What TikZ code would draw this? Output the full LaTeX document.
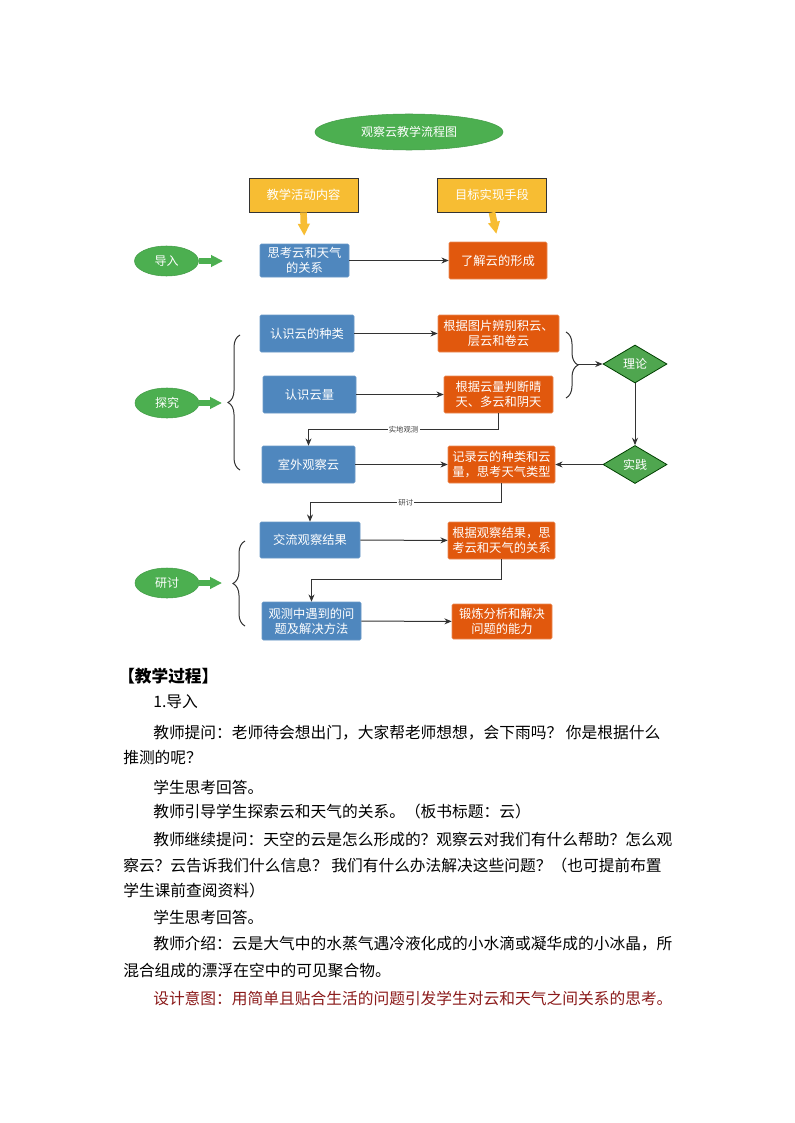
\documentclass[tikz,border=0pt]{standalone}
\usepackage{fontspec}
\usetikzlibrary{arrows.meta,shapes.geometric,decorations.pathreplacing}
\newfontfamily\cjk{Noto Sans CJK SC}
\definecolor{boxblue}{HTML}{4F87BE}
\definecolor{boxorange}{HTML}{E1580D}
\definecolor{ellgreen}{HTML}{4CAF50}
\definecolor{dgreen}{HTML}{4FA64F}
\definecolor{headyellow}{HTML}{F7BD33}
\definecolor{textred}{HTML}{8B1A1A}
\tikzset{
        box/.style={rectangle, rounded corners=1pt, text=white, align=center, inner sep=0pt, font=\cjk\fontsize{9.2pt}{11.25pt}\selectfont},
        bluebox/.style={box, fill=boxblue, draw=boxblue!85!white},
        orangebox/.style={box, fill=boxorange, draw=boxorange!70!white},
        headbox/.style={box, rounded corners=0pt, fill=headyellow, draw=black!80, line width=0.6pt, minimum width=81.75pt, minimum height=25.5pt},
        stage/.style={ellipse, fill=ellgreen, draw=ellgreen!90!black, text=white, inner sep=0pt, minimum width=48pt, minimum height=22.5pt, font=\cjk\fontsize{9pt}{11pt}\selectfont},
        judge/.style={diamond, fill=dgreen, draw=green!25!black, line width=0.6pt, text=white, inner sep=0pt, minimum width=48pt, minimum height=28.5pt, font=\cjk\fontsize{9pt}{11pt}\selectfont},
        conn/.style={draw=black!80, line width=0.75pt, -{Stealth[length=5.5pt,width=4.5pt]}},
        fat/.style={line width=5pt, -{Triangle[length=9pt,width=8.5pt]}},
        curly/.style={decorate, decoration={brace, amplitude=9pt}, draw=black!80, line width=0.75pt},
        lab/.style={fill=white, inner sep=1pt, text=black!75, font=\cjk\fontsize{5.5pt}{6pt}\selectfont},
        para/.style={anchor=west, inner sep=0pt, font=\cjk\fontsize{11.8pt}{14pt}\selectfont}
}
\begin{document}
\begin{tikzpicture}[x=0.75pt, y=-0.75pt]
        \path[use as bounding box, fill=white] (0,0) rectangle (794,1123);
        \node[stage, minimum width=141pt, minimum height=27pt] (0) at (409,132) {观察云教学流程图};
        \node[headbox] (h1) at (303.5,195) {教学活动内容};
        \node[headbox] (h2) at (492,195) {目标实现手段};
        \node[stage] (s1) at (166.5,261) {导入};
        \node[stage] (s2) at (167,403) {探究};
        \node[stage] (s3) at (167,583) {研讨};
        \node[bluebox, minimum width=66.75pt, minimum height=24.75pt] (1) at (304.5,260.5) {思考云和天气\\的关系};
        \node[orangebox, minimum width=73.5pt, minimum height=27.75pt] (2) at (498,260.5) {了解云的形成};
        \node[bluebox, minimum width=70.5pt, minimum height=27.75pt] (3) at (307,333.5) {认识云的种类};
        \node[orangebox, minimum width=90.75pt, minimum height=27.75pt] (4) at (498.5,333.5) {根据图片辨别积云、\\层云和卷云};
        \node[bluebox, minimum width=69.75pt, minimum height=27.75pt] (5) at (309.5,394.5) {认识云量};
        \node[orangebox, minimum width=81.75pt, minimum height=27.75pt] (6) at (498.5,394.5) {根据云量判断晴\\天、多云和阴天};
        \node[bluebox, minimum width=69.75pt, minimum height=27.75pt] (7) at (308.5,464.5) {室外观察云};
        \node[orangebox, minimum width=80.25pt, minimum height=27.75pt] (8) at (501.5,464.5) {记录云的种类和云\\量，思考天气类型};
        \node[bluebox, minimum width=75pt, minimum height=27pt] (9) at (310,540) {交流观察结果};
        \node[orangebox, minimum width=80.25pt, minimum height=27.75pt] (10) at (501.5,540.5) {根据观察结果，思\\考云和天气的关系};
        \node[bluebox, minimum width=74.25pt, minimum height=28.5pt] (11) at (311.5,621) {观测中遇到的问\\题及解决方法};
        \node[orangebox, minimum width=75pt, minimum height=26.25pt] (12) at (502,621.5) {锻炼分析和解决\\问题的能力};
        \node[judge] (d1) at (635,364) {理论};
        \node[judge] (d2) at (635,464.5) {实践};
        \coordinate (c1) at (223,261);
        \coordinate (c2) at (222,403);
        \coordinate (c3) at (222,583);
        \coordinate (c4) at (578,364);
        \draw[fat, headyellow, shorten >=6pt] (h1.south) -- (1.north);
        \draw[fat, headyellow, shorten >=6pt] (h2.south) -- (2.north);
        \draw[fat, ellgreen] (s1.east) -- (c1);
        \draw[fat, ellgreen] (s2.east) -- (c2);
        \draw[fat, ellgreen] (s3.east) -- (c3);
        \draw[curly] (240,470) -- (240,335);
        \draw[curly] (245,626) -- (245,541);
        \draw[curly] (566,332) -- (566,398);
        \draw[conn] (1) -- (2);
        \draw[conn] (3) -- (4);
        \draw[conn] (5) -- (6);
        \draw[conn] (7) -- (8);
        \draw[conn] (9) -- (10);
        \draw[conn] (11) -- (12);
        \draw[conn] (c4) -- (d1);
        \draw[conn] (d1) -- (d2);
        \draw[conn] (d2) -- (8);
        \draw[conn] (6.south) -- ++(0,16) -| node[pos=0.25, lab] {实地观测} (7.north);
        \draw[conn] (8.south) -- ++(0,19) -| node[pos=0.25, lab] {研讨} (9.north);
        \draw[conn] (10.south) -- ++(0,20) -| (11.north);
        \node[para, font=\cjk\bfseries\fontsize{12.5pt}{14pt}\selectfont] (t0) at (118,676) {【教学过程】};
        \node[para] (t1) at (153,702) {1.导入};
        \node[para] (t2) at (153,733) {教师提问：老师待会想出门，大家帮老师想想，会下雨吗？ 你是根据什么};
        \node[para] (t3) at (123,757) {推测的呢？};
        \node[para] (t4) at (153,787) {学生思考回答。};
        \node[para] (t5) at (153,812) {教师引导学生探索云和天气的关系。（板书标题：云）};
        \node[para] (t6) at (153,840) {教师继续提问：天空的云是怎么形成的？观察云对我们有什么帮助？怎么观};
        \node[para] (t7) at (123,866) {察云？云告诉我们什么信息？ 我们有什么办法解决这些问题？（也可提前布置};
        \node[para] (t8) at (123,891) {学生课前查阅资料）};
        \node[para] (t9) at (153,917) {学生思考回答。};
        \node[para] (t10) at (153,944) {教师介绍：云是大气中的水蒸气遇冷液化成的小水滴或凝华成的小冰晶，所};
        \node[para] (t11) at (123,971) {混合组成的漂浮在空中的可见聚合物。};
        \node[para, text=textred] (t12) at (153,998) {设计意图：用简单且贴合生活的问题引发学生对云和天气之间关系的思考。};
\end{tikzpicture}
\end{document}
